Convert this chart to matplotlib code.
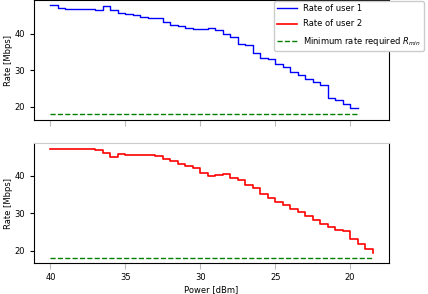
import numpy as np
import matplotlib
matplotlib.use("Agg")
import matplotlib.pyplot as plt

# power axis (dBm), 0.5 dB steps, plotted from high to low
power_u1 = [40.0, 39.5, 39.0, 38.5, 38.0, 37.5, 37.0, 36.5, 36.0, 35.5,
            35.0, 34.5, 34.0, 33.5, 33.0, 32.5, 32.0, 31.5, 31.0, 30.5,
            30.0, 29.5, 29.0, 28.5, 28.0, 27.5, 27.0, 26.5, 26.0, 25.5,
            25.0, 24.5, 24.0, 23.5, 23.0, 22.5, 22.0, 21.5, 21.0, 20.5,
            20.0, 19.5]
rate_u1 = [47.8, 47.1, 46.9, 46.9, 46.9, 46.9, 46.6, 47.5, 46.6, 45.6,
           45.3, 45.0, 44.6, 44.4, 44.4, 43.3, 42.4, 42.1, 41.6, 41.4,
           41.2, 41.6, 41.0, 39.8, 39.2, 37.2, 36.8, 34.6, 33.3, 33.0,
           31.7, 31.0, 29.6, 28.7, 27.6, 26.9, 25.9, 22.4, 21.8, 20.8,
           19.7, 19.6]

power_u2 = [40.0, 39.5, 39.0, 38.5, 38.0, 37.5, 37.0, 36.5, 36.0, 35.5,
            35.0, 34.5, 34.0, 33.5, 33.0, 32.5, 32.0, 31.5, 31.0, 30.5,
            30.0, 29.5, 29.0, 28.5, 28.0, 27.5, 27.0, 26.5, 26.0, 25.5,
            25.0, 24.5, 24.0, 23.5, 23.0, 22.5, 22.0, 21.5, 21.0, 20.5,
            20.0, 19.5, 19.0, 18.5]
rate_u2 = [47.0, 47.0, 47.0, 47.0, 47.0, 47.0, 46.9, 46.0, 44.9, 45.7,
           45.4, 45.4, 45.4, 45.4, 45.3, 44.5, 43.8, 43.2, 42.6, 41.9,
           40.8, 39.8, 40.1, 40.3, 39.4, 38.9, 37.4, 36.6, 35.0, 34.0,
           33.0, 32.1, 31.2, 30.2, 29.2, 28.2, 27.2, 26.2, 25.6, 25.2,
           23.0, 21.8, 20.5, 19.3]

R_MIN = 18.0
xticks = [40, 35, 30, 25, 20]

plt.rcParams['font.size'] = 6

fig = plt.figure(figsize=(4.28, 2.94), dpi=100)
ax1 = fig.add_axes([0.0794, 0.5918, 0.8295, 0.4065])
ax2 = fig.add_axes([0.0794, 0.1054, 0.8295, 0.4071])

l1, = ax1.plot(power_u1, rate_u1, color='b', lw=1.0, drawstyle='steps-post',
               label='Rate of user 1')
g1, = ax1.plot([power_u1[0], power_u1[-1]], [R_MIN, R_MIN], color='g', lw=1.0,
               ls='--', label=r'Minimum rate required $R_{min}$')
l2, = ax2.plot(power_u2, rate_u2, color='r', lw=1.2, drawstyle='steps-post',
               label='Rate of user 2')
ax2.plot([power_u2[0], power_u2[-1]], [R_MIN, R_MIN], color='g', lw=1.0, ls='--')

for ax, ylim in ((ax1, (16.4, 49.1)), (ax2, (16.7, 48.6))):
    ax.set_xlim(41.1, 17.4)
    ax.set_ylim(*ylim)
    ax.set_xticks(xticks)
    ax.set_yticks([20, 30, 40])
    ax.tick_params(axis='x', colors='#bbbbbb', labelcolor='black', length=4)
    ax.tick_params(axis='y', length=3)
    ax.set_ylabel('Rate [Mbps]')
    ax.yaxis.set_label_coords(-0.058, 0.5)

ax1.set_xticklabels([])
ax2.spines['top'].set_color('#cccccc')
ax2.set_xlabel('Power [dBm]', labelpad=2)

fig.legend(handles=[l1, l2, g1], loc='upper left',
           bbox_to_anchor=(273 / 428, 1.0), fontsize=6, framealpha=1,
           edgecolor='#cccccc', handlelength=2.4, handletextpad=0.7,
           labelspacing=0.75, borderaxespad=0.1)

fig.savefig('out.png', dpi=100)
